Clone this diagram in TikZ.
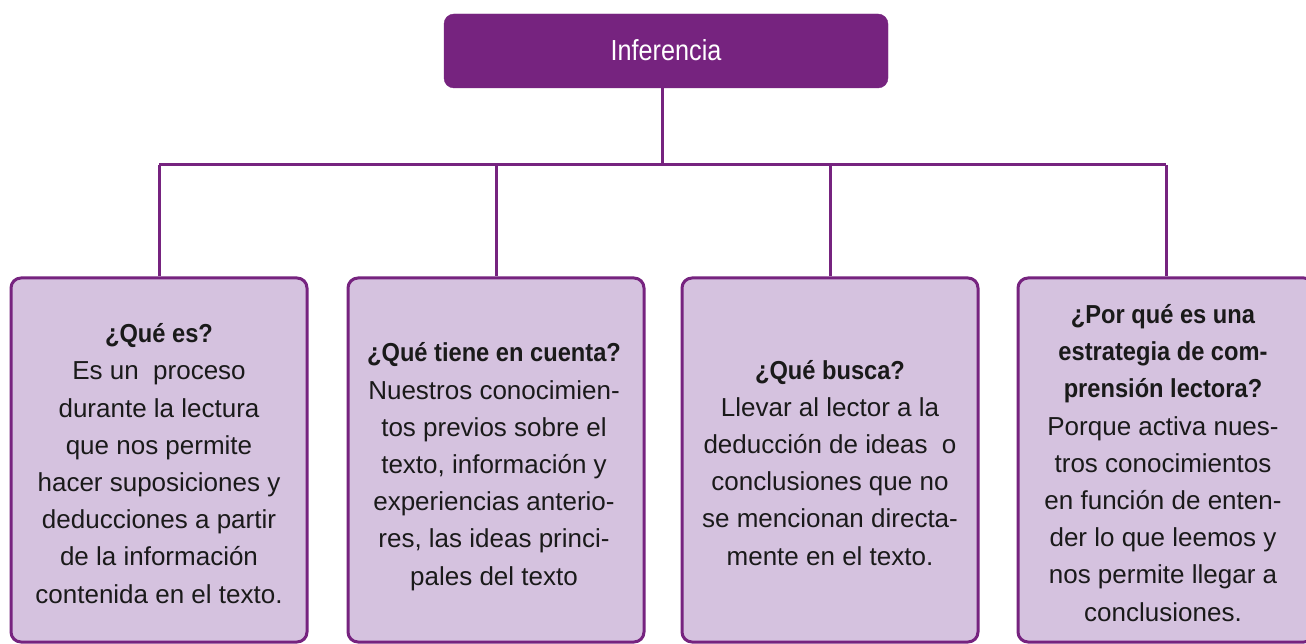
\documentclass[tikz,border=0pt]{standalone}
\usepackage{fontspec}
\setmainfont{Liberation Sans}
\newfontfamily\bodyfont[FakeStretch=1.0]{Liberation Sans}
\newfontfamily\headfont[FakeStretch=0.91]{Liberation Sans Bold}
\newfontfamily\topfont[FakeStretch=0.87]{Liberation Sans}
\definecolor{purp}{HTML}{76237F}
\definecolor{lav}{HTML}{D5C2DF}
\definecolor{ink}{HTML}{1A1A1A}
\tikzset{
  topbox/.style={fill=purp, draw=purp, rounded corners=10pt, minimum width=444pt, minimum height=74pt, inner sep=0pt},
  subbox/.style={fill=lav, draw=purp, line width=3pt, rounded corners=10pt, minimum width=296pt, minimum height=364pt, inner sep=0pt},
  conn/.style={draw=purp, line width=3pt},
  bodytext/.style={anchor=base, align=center, inner sep=0pt, text=ink, font=\bodyfont\fontsize{26}{37.2}\selectfont},
  toptext/.style={anchor=base, inner sep=0pt, text=white, font=\topfont\fontsize{29}{34}\selectfont}
}
\begin{document}
\begin{tikzpicture}[x=1pt,y=-1pt]
\useasboundingbox (0,0) rectangle (1306,644);
\clip (0,0) rectangle (1306,644);
\fill[white] (0,0) rectangle (1306,644);
\node[topbox] (top) at (666,51) {};
\node[toptext] (toplabel) at (666,60.7) {Inferencia};
\node[subbox] (b1) at (159,460) {};
\node[subbox] (b2) at (496,460) {};
\node[subbox] (b3) at (830,460) {};
\node[subbox] (b4) at (1166,460) {};
\coordinate (j) at (662,165);
\coordinate (l) at (159,165);
\coordinate (r) at (1166,165);
\draw[conn] (top.south -| j) -- (j);
\draw[conn] (l) -- (r);
\draw[conn] (l) -- (b1.north);
\draw[conn] (b2.north |- j) -- (b2.north);
\draw[conn] (b3.north |- j) -- (b3.north);
\draw[conn] (r) -- (b4.north);
\node[bodytext] (t1) at (159,603) {{\headfont ¿Qué es?}\\Es un~ proceso\\durante la lectura\\que nos permite\\hacer suposiciones y\\deducciones a partir\\de la información\\contenida en el texto.};
\node[bodytext] (t2) at (494,585) {{\headfont ¿Qué tiene en cuenta?}\\Nuestros conocimien-\\tos previos sobre el\\texto, información y\\experiencias anterio-\\res, las ideas princi-\\pales del texto};
\node[bodytext] (t3) at (830,565) {{\headfont ¿Qué busca?}\\Llevar al lector a la\\deducción de ideas~ o\\conclusiones que no\\se mencionan directa-\\mente en el texto.};
\node[bodytext] (t4) at (1163,621) {{\headfont ¿Por qué es una}\\{\headfont estrategia de com-}\\{\headfont prensión lectora?}\\Porque activa nues-\\tros conocimientos\\en función de enten-\\der lo que leemos y\\nos permite llegar a\\conclusiones.};
\end{tikzpicture}
\end{document}
